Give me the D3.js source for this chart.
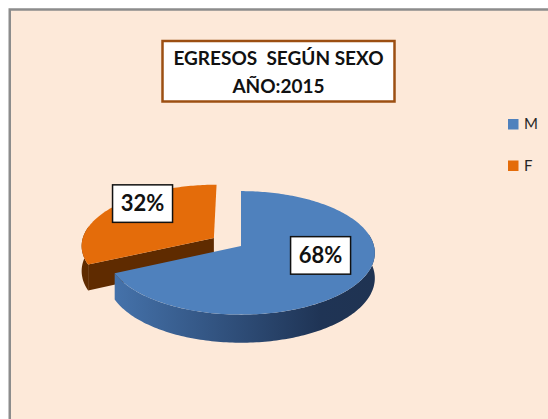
<!DOCTYPE html>
<html>
<head>
<meta charset="utf-8">
<script src="https://cdn.jsdelivr.net/npm/d3@7"></script>
<style>
  body { margin: 0; background: #fff; }
  svg { display: block; font-family: Lato, "Open Sans", sans-serif; }
</style>
</head>
<body>
<svg id="chart" width="548" height="419"></svg>
<script>
// data
var categories = ["M", "F"];
var values = [68, 32];
var titleLines = ["EGRESOS  SEGÚN SEXO", "AÑO:2015"];

// styles
var faceColors = ["#4f81bd", "#e46c0a"];
var sideColors = ["url(#sideBlue)", "#5f2b00"];
var explode = { F: 0.245 };

var svg = d3.select("#chart");

var color = d3.scaleOrdinal(categories, faceColors);
var sideColor = d3.scaleOrdinal(categories, sideColors);

// gradient for the blue wall
var defs = svg.append("defs");
var grad = defs.append("linearGradient")
    .attr("id", "sideBlue")
    .attr("gradientUnits", "userSpaceOnUse")
    .attr("x1", 108).attr("x2", 374).attr("y1", 0).attr("y2", 0);
grad.append("stop").attr("offset", "0%").attr("stop-color", "#4674ad");
grad.append("stop").attr("offset", "45%").attr("stop-color", "#30507c");
grad.append("stop").attr("offset", "80%").attr("stop-color", "#1f3455");
grad.append("stop").attr("offset", "100%").attr("stop-color", "#1f3352");

// chart area panel
svg.append("rect")
    .attr("x", 9.75).attr("y", 9.5)
    .attr("width", 560).attr("height", 430)
    .attr("fill", "#fde9d9")
    .attr("stroke", "#8c8c8c")
    .attr("stroke-width", 2.5);

// title box
var titleG = svg.append("g");
titleG.append("rect")
    .attr("x", 162.5).attr("y", 41)
    .attr("width", 232).attr("height", 60.5)
    .attr("fill", "#fff")
    .attr("stroke", "#9c4f12")
    .attr("stroke-width", 2.5);
titleG.selectAll("text")
    .data(titleLines)
    .enter()
    .append("text")
    .attr("x", 278.5)
    .attr("y", function (d, i) { return 65.3 + i * 27.3; })
    .attr("text-anchor", "middle")
    .style("white-space", "pre")
    .style("font-size", "19px")
    .style("font-weight", "bold")
    .style("fill", "#111")
    .text(function (d) { return d; });

// perspective projection of the pie disc
var cx = 241, cy = 246, rx = 133, ry = 61, depth = 25, eye = 9;
function project(X, Y, z) {
    var f = eye / (eye - Y);
    return [cx + rx * X * f, cy + (ry * Y + depth * z) * f];
}

var pie = d3.pie().sort(null).value(function (d) { return d.value; });
var arcs = pie(categories.map(function (c, i) { return { cat: c, value: values[i] }; }));
var total = d3.sum(values);

function offset(d) {
    var e = explode[d.data.cat] || 0;
    var m = (d.startAngle + d.endAngle) / 2;
    return [e * Math.sin(m), -e * Math.cos(m)];
}
function rim(d, a, z, r) {
    var o = offset(d);
    r = r == null ? 1 : r;
    return project(o[0] + r * Math.sin(a), o[1] - r * Math.cos(a), z);
}
function hub(d, z) {
    var o = offset(d);
    return project(o[0], o[1], z);
}
function arcPts(d, a0, a1, z) {
    var n = Math.max(2, Math.ceil(Math.abs(a1 - a0) / 0.02));
    return d3.range(n + 1).map(function (i) { return rim(d, a0 + (a1 - a0) * i / n, z); });
}

var line = d3.line().curve(d3.curveLinearClosed);

// back slices first
var ordered = arcs.slice().sort(function (a, b) {
    return offset(a)[1] - Math.cos((a.startAngle + a.endAngle) / 2) -
        (offset(b)[1] - Math.cos((b.startAngle + b.endAngle) / 2));
});

var pieG = svg.append("g");
ordered.forEach(function (d) {
    var g = pieG.append("g");
    var s = d.startAngle, e = d.endAngle;

    // cut walls facing the viewer
    if (Math.sin(s) < -1e-6) {
        g.append("path")
            .attr("d", line([hub(d, 0), rim(d, s, 0), rim(d, s, 1), hub(d, 1)]))
            .attr("fill", sideColor(d.data.cat));
    }
    if (Math.sin(e) > 1e-6) {
        g.append("path")
            .attr("d", line([hub(d, 0), rim(d, e, 0), rim(d, e, 1), hub(d, 1)]))
            .attr("fill", sideColor(d.data.cat));
    }

    // outer wall, front half only
    var a0 = Math.max(s, Math.PI / 2 - 0.2), a1 = Math.min(e, 3 * Math.PI / 2 + 0.2);
    if (a0 < a1) {
        g.append("path")
            .attr("d", line(arcPts(d, a0, a1, 0).concat(arcPts(d, a1, a0, 1))))
            .attr("fill", sideColor(d.data.cat));
    }

    // top face
    g.append("path")
        .attr("d", line([hub(d, 0)].concat(arcPts(d, s, e, 0))))
        .attr("fill", color(d.data.cat));
});

// percentage labels in boxes
arcs.forEach(function (d) {
    var m = (d.startAngle + d.endAngle) / 2;
    var p = rim(d, m, 0, 0.68);
    var g = svg.append("g");
    var box = g.append("rect");
    g.append("text")
        .attr("x", p[0])
        .attr("y", p[1] - 14)
        .attr("dy", "0.36em")
        .attr("text-anchor", "middle")
        .style("font-size", "22px")
        .style("font-weight", "bold")
        .style("fill", "#111")
        .text(Math.round(d.value / total * 100) + "%");
    box.attr("x", p[0] - 30).attr("y", p[1] - 14 - 18.5)
        .attr("width", 60).attr("height", 37.5)
        .attr("fill", "#fff")
        .attr("stroke", "#111")
        .attr("stroke-width", 1.5);
});

// legend
var legendY = d3.scalePoint().domain(categories).range([119, 160.5]);
var legend = svg.append("g").selectAll("g")
    .data(categories)
    .enter()
    .append("g")
    .attr("transform", function (d) { return "translate(508," + legendY(d) + ")"; });
legend.append("rect")
    .attr("width", 10.5).attr("height", 10.5)
    .attr("fill", function (d) { return color(d); });
legend.append("text")
    .attr("x", 16)
    .attr("y", 10.3)
    .style("font-size", "15px")
    .style("fill", "#262626")
    .text(function (d) { return d; });
</script>
</body>
</html>
